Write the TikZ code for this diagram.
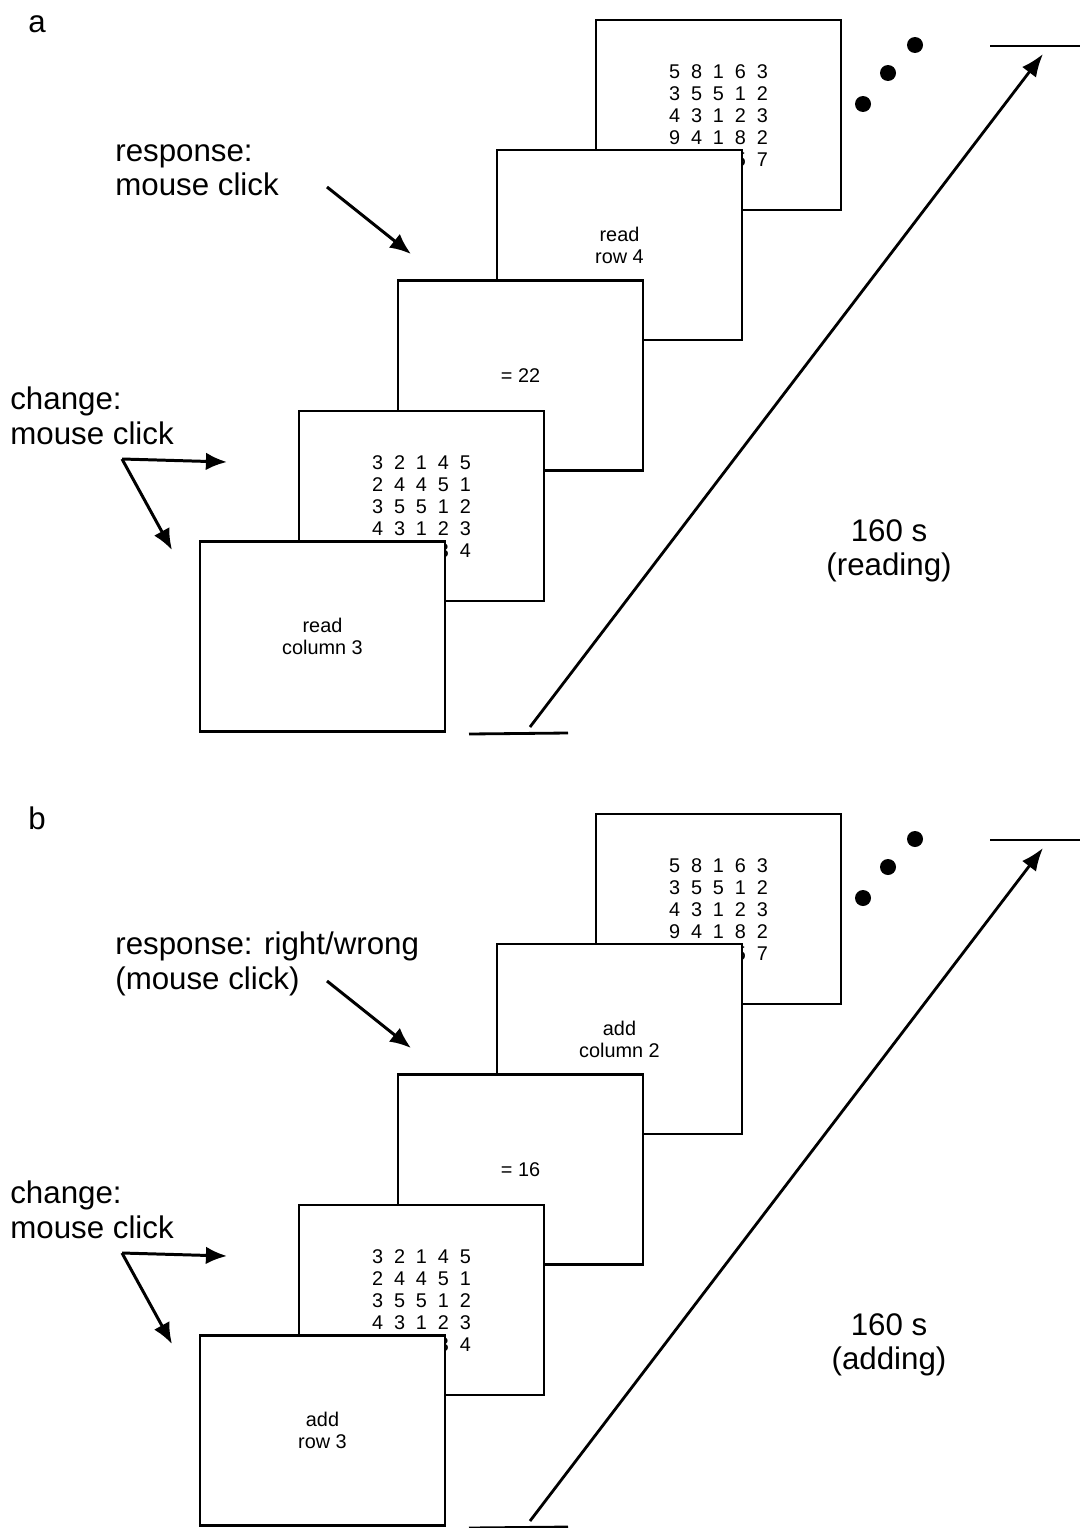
\documentclass[tikz,border=0pt]{standalone}
\usepackage{fontspec}
\setmainfont{Liberation Sans}
\usetikzlibrary{arrows.meta}

\newcommand{\numgrid}[1]{\raisebox{-2pt}[\height][\depth]{\setlength{\tabcolsep}{3.1pt}\begin{tabular}{@{}ccccc@{}}#1\end{tabular}}}

\begin{document}
\begin{tikzpicture}[x=0.02cm,y=-0.02cm,
    screen/.style={draw, fill=white, line width=1.2pt, minimum width=4.9cm,
        minimum height=3.8cm, inner sep=0pt, align=center,
        font=\fontsize{11.3}{12.5}\selectfont},
    label text/.style={inner sep=0pt, align=left, anchor=west,
        font=\fontsize{17.8}{19.6}\selectfont},
    click/.style={line width=1.7pt, -{Latex[length=12pt,width=10pt]}},
    time/.style={line width=1.6pt},
    dot/.style={circle, fill, inner sep=0pt, minimum size=0.32cm}]

\useasboundingbox (0,0) rectangle (1080,1528);

% ============================================
% PANEL A - READING
% ============================================
        % Screens (back to front)
        \node[screen] (s1) at (718.5,115) {\numgrid{5&8&1&6&3\\3&5&5&1&2\\4&3&1&2&3\\9&4&1&8&2\\&&&5&7}};
        \node[screen] (s2) at (619.5,245) {read\\row 4};
        \node[screen] (s3) at (520.5,375.5) {= 22};
        \node[screen] (s4) at (421.5,506) {\numgrid{3&2&1&4&5\\2&4&4&5&1\\3&5&5&1&2\\4&3&1&2&3\\&&&3&4}};
        \node[screen] (s5) at (322.5,636.5) {read\\column 3};
        % Labels
        \node[label text, anchor=center] (tag) at (37,24) {a};
        \node[label text] (resp) at (115,170) {response:\\mouse click};
        \node[label text] (chg) at (10,416) {change:\\mouse click};
        \node[label text, anchor=center, align=center] (dur) at (889,551) {160 s\\(reading)};
        % Click arrows
        \coordinate (resp tail) at (327,187);
        \coordinate (resp tip) at (411,254);
        \draw[click] (resp tail) -- (resp tip);
        \coordinate (chg tail) at (122,459);
        \coordinate (chg tip1) at (227,462);
        \coordinate (chg tip2) at (172,550);
        \draw[click] (chg tail) -- (chg tip1);
        \draw[click] (chg tail) -- (chg tip2);
        % Time line
        \coordinate (base l) at (469,734);
        \coordinate (base r) at (568,733);
        \coordinate (top l) at (990,46);
        \coordinate (top r) at (1080,46);
        \coordinate (t0) at (530,727);
        \coordinate (t1) at (1043,54);
        \draw[time] (base l) -- (base r);
        \draw[time] (top l) -- (top r);
        \draw[time, -{Latex[length=13pt,width=10pt]}] (t0) -- (t1);
        % Continuation dots
        \node[dot] (d1) at (863,104) {};
        \node[dot] (d2) at (888,73) {};
        \node[dot] (d3) at (915,45) {};

% ============================================
% PANEL B - ADDING
% ============================================
\begin{scope}[shift={(0,794)}]
        % Screens (back to front)
        \node[screen] (s1) at (718.5,115) {\numgrid{5&8&1&6&3\\3&5&5&1&2\\4&3&1&2&3\\9&4&1&8&2\\&&&5&7}};
        \node[screen] (s2) at (619.5,245) {add\\column 2};
        \node[screen] (s3) at (520.5,375.5) {= 16};
        \node[screen] (s4) at (421.5,506) {\numgrid{3&2&1&4&5\\2&4&4&5&1\\3&5&5&1&2\\4&3&1&2&3\\&&&3&4}};
        \node[screen] (s5) at (322.5,636.5) {add\\row 3};
        % Labels
        \node[label text, anchor=center] (tag) at (37,24) {b};
        \node[label text] (resp) at (115,170) {response: right/wrong\\(mouse click)};
        \node[label text] (chg) at (10,416) {change:\\mouse click};
        \node[label text, anchor=center, align=center] (dur) at (889,551) {160 s\\(adding)};
        % Click arrows
        \coordinate (resp tail) at (327,187);
        \coordinate (resp tip) at (411,254);
        \draw[click] (resp tail) -- (resp tip);
        \coordinate (chg tail) at (122,459);
        \coordinate (chg tip1) at (227,462);
        \coordinate (chg tip2) at (172,550);
        \draw[click] (chg tail) -- (chg tip1);
        \draw[click] (chg tail) -- (chg tip2);
        % Time line
        \coordinate (base l) at (469,734);
        \coordinate (base r) at (568,733);
        \coordinate (top l) at (990,46);
        \coordinate (top r) at (1080,46);
        \coordinate (t0) at (530,727);
        \coordinate (t1) at (1043,54);
        \draw[time] (base l) -- (base r);
        \draw[time] (top l) -- (top r);
        \draw[time, -{Latex[length=13pt,width=10pt]}] (t0) -- (t1);
        % Continuation dots
        \node[dot] (d1) at (863,104) {};
        \node[dot] (d2) at (888,73) {};
        \node[dot] (d3) at (915,45) {};
\end{scope}
\end{tikzpicture}
\end{document}
